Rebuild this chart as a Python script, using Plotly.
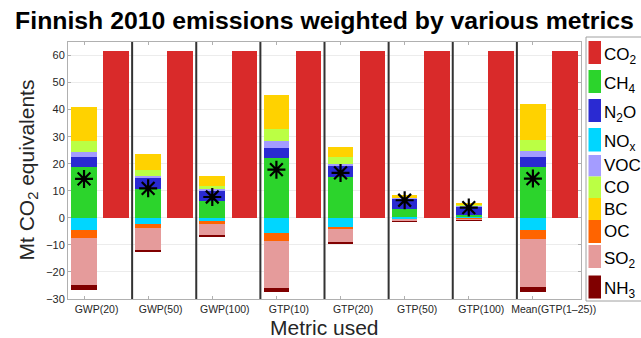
import plotly.graph_objects as go

metrics = ["GWP(20)", "GWP(50)", "GWP(100)", "GTP(10)", "GTP(20)", "GTP(50)", "GTP(100)", "Mean(GTP(1\u201325))"]

co2 = [61.5, 61.5, 61.5, 61.5, 61.5, 61.5, 61.5, 61.5]
ch4 = [18.8, 10.8, 6.3, 22.1, 15.1, 3.1, 0.9, 18.7]
n2o = [3.7, 3.9, 3.9, 3.7, 3.9, 4.0, 3.4, 3.7]
nox = [-4.5, -2.3, -1.2, -5.5, -3.3, -0.5, -0.4, -4.5]
voc = [1.8, 0.9, 0.5, 2.5, 1.0, 0.3, 0.2, 2.2]
co = [4.0, 2.2, 1.0, 4.5, 2.4, 0.3, 0.3, 4.0]
bc = [12.7, 5.9, 3.7, 12.7, 3.8, 0.7, 0.5, 13.3]
oc = [-3.1, -1.6, -0.9, -3.1, -1.0, -0.2, -0.1, -3.2]
so2 = [-17.2, -8.0, -4.5, -17.2, -4.8, -0.5, -0.4, -17.9]
nh3 = [-1.9, -0.9, -0.6, -1.7, -0.6, -0.3, -0.2, -1.8]
net = [14.4, 10.9, 7.7, 17.8, 16.6, 6.5, 3.8, 14.5]

species = ["CO<sub>2</sub>", "CH<sub>4</sub>", "N<sub>2</sub>O", "NO<sub>x</sub>", "VOC", "CO", "BC", "OC", "SO<sub>2</sub>", "NH<sub>3</sub>"]
colors = ["#d92a2a", "#2cd42c", "#2a2ad2", "#00d6ff", "#a49cff", "#bbff44", "#ffd200", "#ff6400", "#e59b9b", "#800000"]

FONT = "Liberation Sans, Arial, sans-serif"
n = len(metrics)
x_stack = [2 * i + 0.5 for i in range(n)]
x_co2 = [2 * i + 1.5 for i in range(n)]
# label positions (slightly left of group centre, last one shifted right as in the original)
x_lab = [2 * i + 1 - 0.11 for i in range(n - 1)] + [2 * (n - 1) + 1 + 0.15]

fig = go.Figure()
fig.add_trace(go.Bar(x=x_co2, y=co2, width=0.8, marker=dict(color=colors[0], line=dict(width=0))))
stack_series = [(ch4, 1), (n2o, 2), (nox, 3), (voc, 4), (co, 5), (bc, 6), (oc, 7), (so2, 8), (nh3, 9)]
for vals, ci in stack_series:
    fig.add_trace(go.Bar(x=x_stack, y=vals, width=0.8, marker=dict(color=colors[ci], line=dict(width=0))))
fig.add_trace(go.Scatter(x=x_stack, y=net, mode="markers",
                         marker=dict(symbol="asterisk-open", size=15, color="black",
                                     line=dict(width=2.2, color="black"))))
fig.add_trace(go.Scatter(x=x_lab, y=[0] * n, xaxis="x2", mode="markers",
                         marker=dict(opacity=0, size=1), hoverinfo="skip"))

L, R, T, B = 68, 581, 42, 299
def px(x):
    return (x - L) / (R - L)
def py(y):
    return (B - y) / (B - T)

shapes = []
for i in range(1, n):
    shapes.append(dict(type="line", xref="x", yref="paper", x0=2 * i, x1=2 * i, y0=0, y1=1,
                       line=dict(color="#333333", width=2), layer="above"))

# legend box
shapes.append(dict(type="rect", xref="paper", yref="paper", x0=px(586), x1=px(660), y0=py(301), y1=py(37),
                   line=dict(color="#a0a0a0", width=1), fillcolor="white", layer="above"))
leg_rows = [(41, 64), (70, 93), (99, 122), (128, 151.5), (155, 176.5), (176.5, 198),
            (198, 220), (220, 243), (245, 268), (275.5, 298.5)]
annotations = []
for k, (t, b) in enumerate(leg_rows):
    shapes.append(dict(type="rect", xref="paper", yref="paper", x0=px(588.5), x1=px(601), y0=py(b), y1=py(t),
                       line=dict(width=0), fillcolor=colors[k], layer="above"))
    sub = "<sub>" in species[k]
    annotations.append(dict(text=species[k], xref="paper", yref="paper", x=px(602), y=py((t + b) / 2 + (3 if sub else 0)),
                            xanchor="left", yanchor="middle", showarrow=False,
                            font=dict(family=FONT, size=17, color="black")))

annotations.append(dict(text="Mt CO<sub>2</sub> equivalents", xref="paper", yref="paper", x=px(27), y=0.5,
                        textangle=-90, xanchor="center", yanchor="middle", showarrow=False,
                        font=dict(family=FONT, size=21, color="#262626")))
annotations.append(dict(text="Metric used", xref="paper", yref="paper", x=0.5, y=py(327),
                        xanchor="center", yanchor="middle", showarrow=False,
                        font=dict(family=FONT, size=21, color="#262626")))

fig.update_layout(
    width=641, height=338,
    margin=dict(l=L, r=641 - R, t=T, b=338 - B),
    paper_bgcolor="white", plot_bgcolor="white",
    barmode="relative", bargap=0, showlegend=False,
    title=dict(text="<b>Finnish 2010 emissions weighted by various metrics</b>", x=0.5, xref="paper",
               xanchor="center", y=1 - 20 / 338, yanchor="middle", yref="container",
               font=dict(family=FONT, size=24.8, color="black")),
    xaxis=dict(range=[0, 2 * n], tickmode="array", tickvals=x_stack, showticklabels=False,
               showgrid=False, zeroline=False, showline=True, linecolor="#b0b0b0", linewidth=1,
               mirror="ticks", ticks="inside", ticklen=3, tickcolor="#b0b0b0"),
    xaxis2=dict(range=[0, 2 * n], overlaying="x", anchor="y", side="bottom", tickmode="array",
                tickvals=x_lab, ticktext=metrics, tickangle=0, ticks="", showline=False,
                showgrid=False, zeroline=False, ticklabelstandoff=2,
                tickfont=dict(family=FONT, size=10.5, color="#262626")),
    yaxis=dict(range=[-30, 65], tickmode="array", tickvals=[-30, -20, -10, 0, 10, 20, 30, 40, 50, 60],
               showgrid=True, gridcolor="#ececec", zeroline=False, showline=True, linecolor="#b0b0b0",
               linewidth=1, mirror="ticks", ticks="inside", ticklen=3, tickcolor="#b0b0b0",
               tickfont=dict(family=FONT, size=11, color="#262626")),
    shapes=shapes, annotations=annotations,
)

fig.write_html("out.html")
